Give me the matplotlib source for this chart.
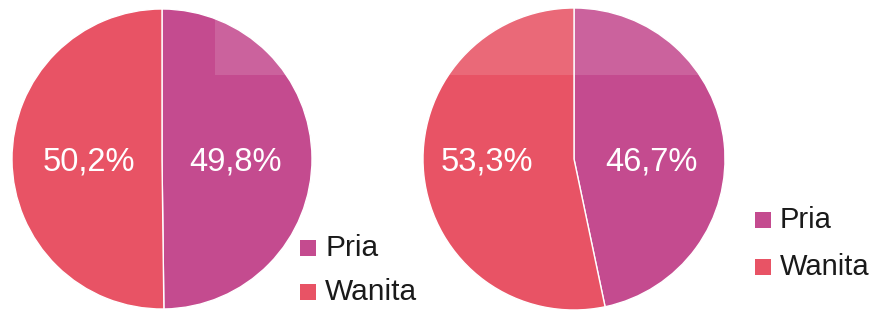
import matplotlib.pyplot as plt
from matplotlib.patches import Rectangle

plt.rcParams['font.family'] = ['Liberation Sans', 'DejaVu Sans']

# Data
categories = ["Pria", "Wanita"]
left_values = [49.8, 50.2]
right_values = [46.7, 53.3]
left_labels = ["49,8%", "50,2%"]
right_labels = ["46,7%", "53,3%"]
colors = ["#C44B8F", "#E85365"]

W, H = 869, 310
fig = plt.figure(figsize=(W / 100, H / 100), dpi=100)
ax = fig.add_axes([0, 0, 1, 1])


def draw_pie(values, labels, cx, cy, r, label_x):
    ax.pie(values, colors=colors, startangle=90, counterclock=False,
           center=(cx, H - cy), radius=r, frame=True,
           wedgeprops=dict(edgecolor="white", linewidth=1))
    for lbl, lx in zip(labels, label_x):
        ax.text(lx, H - 162, lbl, color="white", fontsize=23.5,
                ha="center", va="center", zorder=6)


def draw_legend(x, ys, size):
    for cat, col, y in zip(categories, colors, ys):
        ax.add_patch(Rectangle((x, H - y - 8), 16, 16, facecolor=col,
                               edgecolor="none", zorder=6))
        ax.text(x + 25, H - y, cat, fontsize=size, color="#1a1a1a",
                ha="left", va="center", zorder=6)


draw_pie(left_values, left_labels, 162, 159, 150, [236, 89])
draw_pie(right_values, right_labels, 574, 159, 151, [651, 487])

# light overlay band at the top
ax.add_patch(Rectangle((215, H - 75), 490, 75, facecolor="white",
                       alpha=0.13, edgecolor="none", zorder=5))

draw_legend(300, [248, 292], 21.5)
draw_legend(755, [220, 267], 21)

ax.set_xlim(0, W)
ax.set_ylim(0, H)
ax.set_aspect("equal")
ax.axis("off")

fig.savefig("out.png", dpi=100)
